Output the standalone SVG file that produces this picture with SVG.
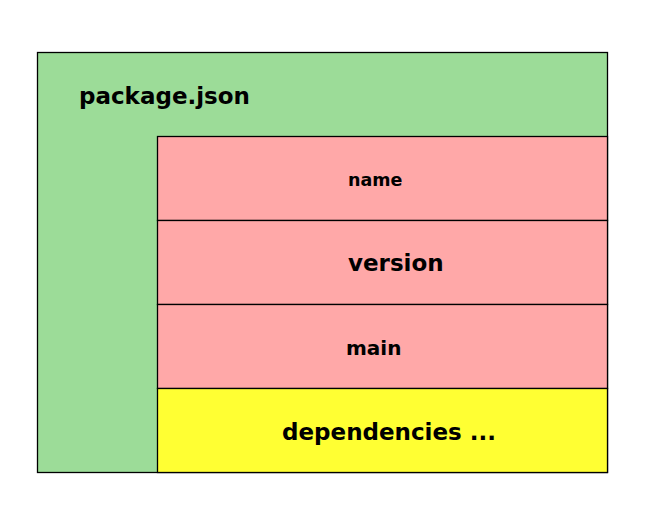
<svg xmlns="http://www.w3.org/2000/svg" width="645" height="525" viewBox="0 0 645 525">
<style>
rect{stroke:#000;stroke-width:1.3}
.pink{fill:#ffa8a8}
text{font-family:"DejaVu Sans",sans-serif;font-weight:bold;fill:#000}
</style>
<rect width="645" height="525" fill="#fff" style="stroke:none"/>
<g id="package">
<rect x="37.5" y="52.5" width="570" height="420" fill="#9cdc98"/>
<text x="79" y="104" font-size="23">package.json</text>
</g>
<g id="name">
<rect class="pink" x="157.5" y="136.5" width="450" height="84"/>
<text x="348" y="186" font-size="17.5">name</text>
</g>
<g id="version">
<rect class="pink" x="157.5" y="220.5" width="450" height="84"/>
<text x="348" y="271" font-size="23">version</text>
</g>
<g id="main">
<rect class="pink" x="157.5" y="304.5" width="450" height="84"/>
<text x="346" y="355" font-size="20">main</text>
</g>
<g id="dependencies">
<rect x="157.5" y="388.5" width="450" height="84" fill="#ffff33"/>
<text x="282" y="440" font-size="23">dependencies ...</text>
</g>
<g id="connectors"/>
</svg>
